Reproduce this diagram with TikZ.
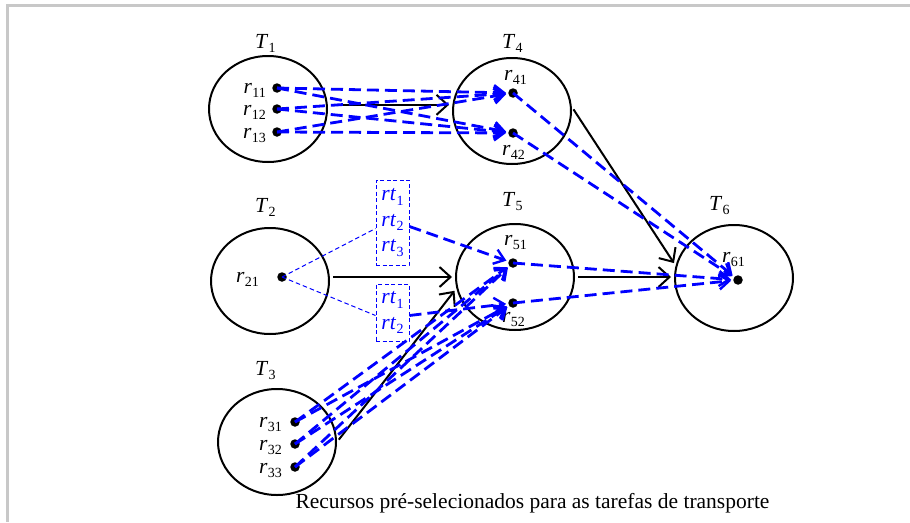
\documentclass[tikz,border=0pt]{standalone}
\usepackage{fontspec}
\setmainfont{Liberation Serif}
\usetikzlibrary{shapes.geometric,arrows.meta,calc}
\definecolor{frame}{RGB}{200,200,200}
\newcommand\isub[2]{\textit{#1}\kern0.3pt\raisebox{-0.22em}{\fontsize{14}{14}\selectfont #2}}
\begin{document}
\begin{tikzpicture}[x=1pt,y=-1pt,
  ell/.style={draw,ellipse,line width=2pt,minimum width=118pt,minimum height=106pt,inner sep=0pt},
  dot/.style={circle,fill=black,inner sep=0pt,minimum size=9.5pt},
  lab/.style={font=\fontsize{21.5}{25}\selectfont,inner sep=0pt},
  rtbox/.style={draw=blue,dashed,dash pattern=on 4pt off 2.5pt,line width=1pt,text=blue,
     minimum width=33pt,inner sep=0pt,align=center,font=\fontsize{21.5}{25.7}\selectfont},
  karr/.style={line width=2pt,-{Straight Barb[length=11pt,width=20pt,line width=2pt]},shorten <=3pt,shorten >=3pt},
  barr/.style={blue,line width=2.8pt,dash pattern=on 12pt off 6pt,-{Straight Barb[length=10pt,width=15pt,line width=2.4pt]},shorten >=2pt},
  thinb/.style={blue,line width=1pt,dash pattern=on 4.5pt off 3pt}
]
\useasboundingbox (0,0) rectangle (910,522);
% frame
\fill[frame] (6,4) rectangle (910,7);
\fill[frame] (6,4) rectangle (9,522);

% ellipses
\node[ell] (T1) at (268,109) {};
\node[ell] (T4) at (512,111) {};
\node[ell] (T2) at (270,281) {};
\node[ell] (T5) at (515,277) {};
\node[ell] (T3) at (277,442) {};
\node[ell] (T6) at (734,278) {};

% task labels
\node[lab,anchor=base west] (lT1) at (255,48) {\isub{T}{1}};
\node[lab,anchor=base west] (lT4) at (502,48) {\isub{T}{4}};
\node[lab,anchor=base west] (lT2) at (255,212) {\isub{T}{2}};
\node[lab,anchor=base west] (lT5) at (502,206) {\isub{T}{5}};
\node[lab,anchor=base west] (lT3) at (255,375) {\isub{T}{3}};
\node[lab,anchor=base west] (lT6) at (709,210) {\isub{T}{6}};

% resource dots
\node[dot] (r11) at (277,88) {};
\node[dot] (r12) at (277,109) {};
\node[dot] (r13) at (277,132) {};
\node[dot] (r41) at (513,93) {};
\node[dot] (r42) at (513,133) {};
\node[dot] (r21) at (282,277) {};
\node[dot] (r51) at (513,263) {};
\node[dot] (r52) at (513,303) {};
\node[dot] (r31) at (295,422) {};
\node[dot] (r32) at (295,444) {};
\node[dot] (r33) at (295,467) {};
\node[dot] (r61) at (738,280) {};

% resource labels
\node[lab,anchor=base east] (l11) at (266,93) {\isub{r}{11}};
\node[lab,anchor=base east] (l12) at (266,115) {\isub{r}{12}};
\node[lab,anchor=base east] (l13) at (266,138) {\isub{r}{13}};
\node[lab,anchor=base west] (l41) at (504,80) {\isub{r}{41}};
\node[lab,anchor=base west] (l42) at (502,155) {\isub{r}{42}};
\node[lab,anchor=base east] (l21) at (259,282) {\isub{r}{21}};
\node[lab,anchor=base west] (l51) at (504,245) {\isub{r}{51}};
\node[lab,anchor=base west] (l52) at (502,322) {\isub{r}{52}};
\node[lab,anchor=base east] (l31) at (282,427) {\isub{r}{31}};
\node[lab,anchor=base east] (l32) at (282,450) {\isub{r}{32}};
\node[lab,anchor=base east] (l33) at (282,473) {\isub{r}{33}};
\node[lab,anchor=base west] (l61) at (722,262) {\isub{r}{61}};

% transport resource boxes
\node[rtbox,minimum height=85pt] (rtA) at (392.5,222.5) {\isub{rt}{1}\\\isub{rt}{2}\\\isub{rt}{3}};
\node[rtbox,minimum height=57pt] (rtB) at (392.5,312.5) {\isub{rt}{1}\\\isub{rt}{2}};

% black precedence arrows
\draw[karr] (T1.4) -- (T1.4 -| T4.west);
\draw[karr] (T4.4) -- (T6.168);
\draw[karr] (T2.east |- T5.west) -- (T5.west);
\draw[karr] (T3.east) -- (T5.191);
\draw[karr] (T5.east) -- (T5.east -| T6.west);

% thin dashed to boxes
\draw[thinb] (r21.center) -- ([yshift=-6pt]rtA.west);
\draw[thinb] (r21.center) -- ([yshift=-3pt]rtB.west);

% blue dashed resource arrows
\foreach \a in {r11,r12,r13}{
  \draw[barr] (\a.center) -- (r41);
  \draw[barr] (\a.center) -- (r42);
}
\draw[barr] (r41.center) -- (r61);
\draw[barr] (r42.center) -- (r61);
\draw[barr] ([yshift=-4pt]rtA.east) -- (r51);
\draw[barr] ([yshift=-3pt]rtB.east) -- (r52);
\foreach \a in {r31,r32,r33}{
  \draw[barr] (\a.center) -- (r51);
  \draw[barr] (\a.center) -- (r52);
}
\draw[barr] (r51.center) -- (r61);
\draw[barr] (r52.center) -- (r61);

% caption
\node[anchor=base,inner sep=0pt,font=\fontsize{21.5}{25}\selectfont] (cap) at (532.5,508) {Recursos pré-selecionados para as tarefas de transporte};
\end{tikzpicture}
\end{document}
